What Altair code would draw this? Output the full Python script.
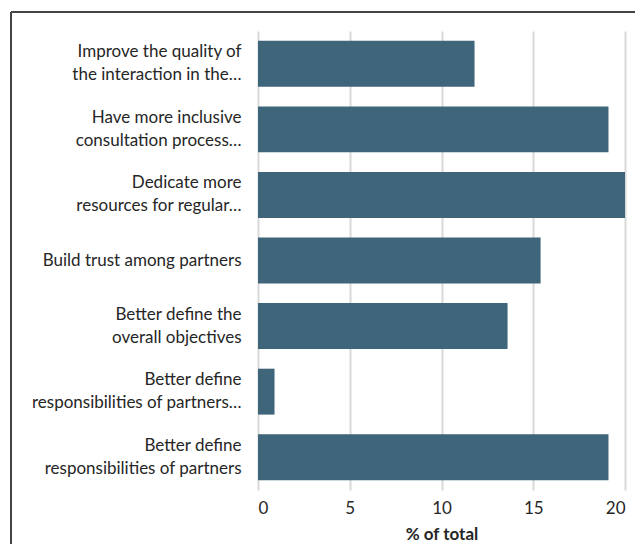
import altair as alt
import pandas as pd

categories = [
    "Improve the quality of|the interaction in the…",
    "Have more inclusive|consultation process…",
    "Dedicate more|resources for regular…",
    "Build trust among partners",
    "Better define the|overall objectives",
    "Better define|responsibilities of partners…",
    "Better define|responsibilities of partners",
]
values = [11.8, 19.1, 20.0, 15.4, 13.6, 0.9, 19.1]
x_ticks = [0, 5, 10, 15, 20]

df = pd.DataFrame({"cat": categories, "val": values})

FONT = "Lato"
TXT = "#262626"

bars = alt.Chart(df).mark_bar(color="#3e657a").encode(
    x=alt.X(
        "val:Q",
        scale=alt.Scale(domain=[0, 20], nice=False),
        axis=alt.Axis(
            values=x_ticks,
            title="% of total",
            titleFont=FONT,
            titleFontSize=17,
            titleFontWeight="bold",
            titleColor=TXT,
            titlePadding=10,
            labelFont=FONT,
            labelFontSize=17,
            labelColor=TXT,
            labelPadding=10,
            domain=False,
            ticks=False,
            grid=True,
            gridColor="#d9d9d9",
            gridWidth=2,
        ),
    ),
    y=alt.Y(
        "cat:N",
        sort=None,
        scale=alt.Scale(paddingInner=0.3, paddingOuter=0.15),
        axis=alt.Axis(
            title=None,
            labelExpr="split(datum.label, '|')",
            labelFont=FONT,
            labelFontSize=17,
            labelColor=TXT,
            labelLineHeight=23,
            labelPadding=17,
            labelLimit=300,
            labelOffset={
                "condition": {"test": "indexof(datum.label, '|') >= 0", "value": -11.5},
                "value": 0,
            },
            domain=False,
            ticks=False,
            grid=False,
        ),
    ),
)

frame_left = alt.Chart(df).mark_rule(color="#444444", strokeWidth=1.5).encode(
    x=alt.value(-247), y=alt.value(-19), y2=alt.value(600)
)
frame_top = alt.Chart(df).mark_rule(color="#444444", strokeWidth=1.5).encode(
    x=alt.value(-247), x2=alt.value(500), y=alt.value(-19)
)

chart = (
    alt.layer(bars, frame_left, frame_top)
    .properties(
        width=367,
        height=459,
        autosize=alt.AutoSizeParams(type="none"),
        padding={"left": 250, "top": 23, "right": 10, "bottom": 54},
    )
    .configure_view(stroke=None)
)

chart.save("out.html", embed_options={"renderer": "svg", "actions": False})
